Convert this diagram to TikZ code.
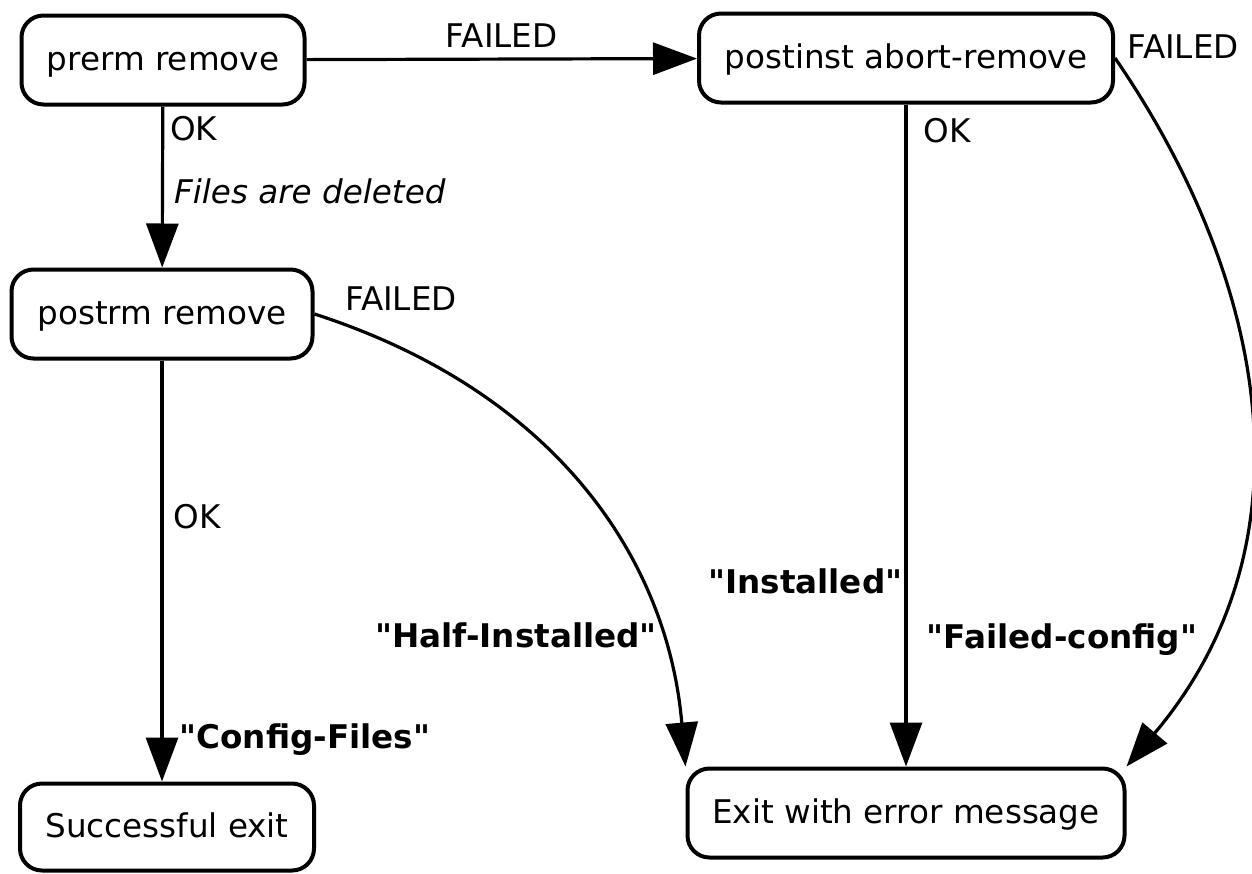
\documentclass[tikz,border=0pt]{standalone}
\usepackage{fontspec}
\setmainfont{DejaVu Sans}
\usetikzlibrary{arrows.meta}
\tikzset{stage/.style={draw,line width=2pt,rounded corners=11pt,minimum height=44.5pt,text height=13pt,text depth=3pt,font=\fontsize{16.3}{19}\selectfont},
         line/.style={-{Triangle[length=22pt,width=16pt]},line width=1.6pt},
         tag/.style={inner sep=2pt,font=\fontsize{16.3}{19}\selectfont},
         status/.style={inner sep=2pt,font=\fontsize{16.3}{19}\selectfont\bfseries}
}
\newcommand{\qt}[1]{\textquotedbl#1\textquotedbl}

\begin{document}
\begin{tikzpicture}[x=0.5pt,y=-0.5pt]
  \useasboundingbox (0,0) rectangle (1252,873);
  \node[stage, minimum width=141.5pt] (prerm) at (163,60) {prerm remove};
  \node[stage, minimum width=207pt] (postinst) at (906,58) {postinst abort-remove};
  \node[stage, minimum width=150.5pt] (postrm) at (162,314) {postrm remove};
  \node[stage, minimum width=147pt, minimum height=43.5pt] (success) at (167,827) {Successful exit};
  \node[stage, minimum width=218.5pt] (errmsg) at (906,813) {Exit with error message};

  % labels next to the curved ones
  \node[tag] (failpostrm) at (401,299) {FAILED};
  \node[tag] (failpostinst) at (1183,47) {FAILED};
  \node[status] (half) at (516,635) {\qt{Half-Installed}};
  \node[status] (failcfg) at (1062,640) {\qt{Failed-config}};

  \draw[line] (prerm) -- node[tag,midway,above=3pt] (failprerm) {FAILED} (postinst);
  \draw[line] (prerm) -- node[tag,pos=0.14,right=1pt] (okprerm) {OK}
     node[tag,pos=0.53,right=3pt] (deleted) {\textit{Files are deleted}} (postrm);
  \draw[line] (postrm) -- node[tag,pos=0.37,right=3pt] (okpostrm) {OK}
     node[status,pos=0.9,right=6pt] (cfgfiles) {\qt{Config-Files}} (postrm.south |- success.north);
  \draw[line] (postinst) -- node[tag,pos=0.04,right=6pt] (okpostinst) {OK}
     node[status,pos=0.72,left=-1pt] (installed) {\qt{Installed}} (errmsg);
  \draw[line] (postrm.east) .. controls (559,393) and (668,562) .. (errmsg.north west);
  \draw[line] (postinst.east) .. controls (1266,278) and (1317,541) .. (errmsg.north east);
\end{tikzpicture}
\end{document}
